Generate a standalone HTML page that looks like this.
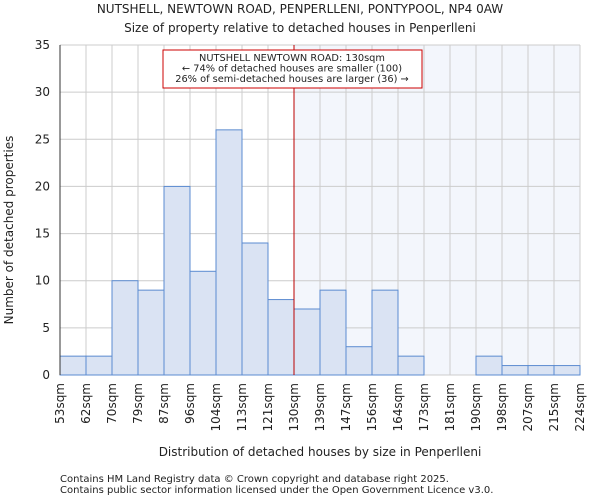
<!DOCTYPE html>
<html><head><meta charset="utf-8"><style>
body{margin:0;background:#fff;font-family:"DejaVu Sans","Liberation Sans",sans-serif;}
svg text{font-family:"DejaVu Sans","Liberation Sans",sans-serif;fill:#222;}
</style></head><body>
<svg id="c" width="600" height="500">
<text x="300" y="13" text-anchor="middle" font-size="12">NUTSHELL, NEWTOWN ROAD, PENPERLLENI, PONTYPOOL, NP4 0AW</text>
<text x="300" y="32" text-anchor="middle" font-size="12">Size of property relative to detached houses in Penperlleni</text>
<g id="g"></g>
<text x="13" y="230" text-anchor="middle" font-size="12" transform="rotate(-90 13 230)">Number of detached properties</text>
<text x="320" y="456" text-anchor="middle" font-size="12">Distribution of detached houses by size in Penperlleni</text>
<text x="60" y="482" font-size="10" fill="#444">Contains HM Land Registry data © Crown copyright and database right 2025.</text>
<text x="60" y="493" font-size="10" fill="#444">Contains public sector information licensed under the Open Government Licence v3.0.</text>
</svg>
<script>
const labels=["53sqm","62sqm","70sqm","79sqm","87sqm","96sqm","104sqm","113sqm","121sqm","130sqm","139sqm","147sqm","156sqm","164sqm","173sqm","181sqm","190sqm","198sqm","207sqm","215sqm","224sqm"];
const counts=[2,2,10,9,20,11,26,14,8,7,9,3,9,2,0,0,2,1,1,1];
const yTicks=[0,5,10,15,20,25,30,35];
const markerBin=9;
const L=60,R=580,T=45,B=375,yMax=35;
const n=counts.length,bw=(R-L)/n;
const xs=i=>L+i*bw, ys=v=>B-v/yMax*(B-T);
const g=document.getElementById('g'),NS="http://www.w3.org/2000/svg";
function mk(t,a){const e=document.createElementNS(NS,t);for(const k in a)e.setAttribute(k,a[k]);g.appendChild(e);return e;}
let e=mk('rect',{x:xs(markerBin),y:T,width:R-xs(markerBin),height:B-T,fill:'#f3f6fc'});


for(let i=0;i<=n;i++){e=mk('line',{x1:xs(i),x2:xs(i),y1:T,y2:B,stroke:'#ccc'});

}
yTicks.forEach(v=>{e=mk('line',{x1:L,x2:R,y1:ys(v),y2:ys(v),stroke:'#ccc'});


const t=mk('text',{x:L-10,y:ys(v)+4,'text-anchor':'end','font-size':12});t.textContent=v;

});
counts.forEach((v,i)=>{if(!v)return;const r=mk('rect',{x:xs(i),y:ys(v),width:bw,height:B-ys(v),fill:'#dae3f3',stroke:'#5b8bd0','stroke-width':1});

});
labels.forEach((s,i)=>{const x=xs(i)+4,y=B+8;const t=mk('text',{x:x,y:y,'text-anchor':'end','font-size':12,transform:`rotate(-90 ${x} ${y})`});t.textContent=s;

});
e=mk('line',{x1:L,x2:L,y1:T,y2:B,stroke:'#333'});


e=mk('line',{x1:xs(markerBin),x2:xs(markerBin),y1:T,y2:B,stroke:'#b00','stroke-width':1});


e=mk('rect',{x:163,y:50,width:259,height:38,fill:'#fff',stroke:'#c00'});


["NUTSHELL NEWTOWN ROAD: 130sqm","← 74% of detached houses are smaller (100)","26% of semi-detached houses are larger (36) →"].forEach((s,i)=>{const t=mk('text',{x:292,y:61+i*10.5,'text-anchor':'middle','font-size':9.8,textLength:i==0?0:0});t.removeAttribute('textLength');t.textContent=s;

});
</script>
</body></html>
